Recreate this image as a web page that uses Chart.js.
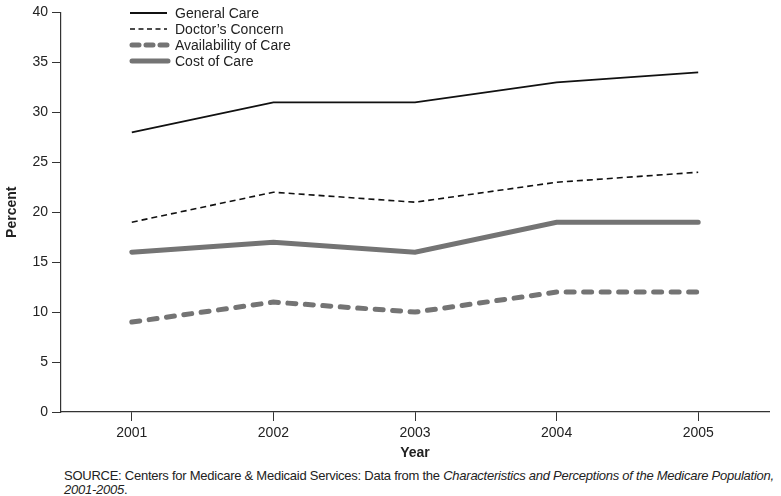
<!DOCTYPE html>
<html>
<head>
<meta charset="utf-8">
<script src="https://cdn.jsdelivr.net/npm/chart.js@4/dist/chart.umd.min.js"></script>
<style>
  body { margin: 0; background: #fff; }
  #wrap { position: relative; width: 781px; height: 462px; }
  #fuente {
    position: absolute; left: 64px; top: 469px; width: 717px;
    font-family: "Liberation Sans", Arial, sans-serif; font-size: 13px;
    letter-spacing: -0.25px; white-space: nowrap;
    line-height: 13.5px; color: #222;
  }
</style>
</head>
<body>
<div id="wrap"><canvas id="grafico"></canvas></div>
<div id="fuente">SOURCE: Centers for Medicare &amp; Medicaid Services: Data from the <i>Characteristics and Perceptions of the Medicare Population,</i><br><i>2001-2005</i>.</div>
<script>
'use strict';
////////////////////////////////////////////////////
// datos
var years = ['2001', '2002', '2003', '2004', '2005'];
var generalCare = [28, 31, 31, 33, 34];
var doctorsConcern = [19, 22, 21, 23, 24];
var availabilityCare = [9, 11, 10, 12, 12];
var costCare = [16, 17, 16, 19, 19];
var yTicks = [0, 5, 10, 15, 20, 25, 30, 35, 40];
////////////////////////////////////////////////////
const fuente = '"Liberation Sans", Arial, sans-serif';
const gris = '#747474';

// leyenda dibujada dentro del area del grafico, arriba a la izquierda
const leyenda = {
    id: 'leyenda',
    afterDraw(chart) {
        const ctx = chart.ctx;
        const filas = [13, 29, 45, 61];
        ctx.save();
        chart.data.datasets.forEach((ds, i) => {
            const y = filas[i];
            ctx.beginPath();
            ctx.strokeStyle = ds.borderColor;
            ctx.lineWidth = ds.borderWidth;
            ctx.lineCap = ds.borderCapStyle || 'butt';
            ctx.setLineDash(ds.legendDash || []);
            ctx.moveTo(i >= 2 ? 132 : 130, y);
            ctx.lineTo(i >= 2 ? 168 : 167, y);
            ctx.stroke();
            ctx.setLineDash([]);
            ctx.fillStyle = '#222';
            ctx.font = '14px ' + fuente;
            ctx.textBaseline = 'middle';
            ctx.fillText(ds.label, 175, y + 1);
        });
        ctx.restore();
    }
};

const ctx = document.getElementById('grafico').getContext('2d');
new Chart(ctx, {
    type: 'line',
    data: {
        labels: years,
        datasets: [
            { label: 'General Care', data: generalCare, borderColor: '#111', borderWidth: 1.8, legendDash: [] },
            { label: 'Doctor\u2019s Concern', data: doctorsConcern, borderColor: '#111', borderWidth: 1.6, borderDash: [6, 4], legendDash: [5, 3.5] },
            { label: 'Availability of Care', data: availabilityCare, borderColor: gris, borderWidth: 5, borderDash: [8, 9.5], borderCapStyle: 'round', legendDash: [7, 7] },
            { label: 'Cost of Care', data: costCare, borderColor: gris, borderWidth: 5, borderCapStyle: 'round' }
        ]
    },
    options: {
        responsive: true,
        maintainAspectRatio: false,
        animation: false,
        elements: { point: { radius: 0 }, line: { tension: 0 } },
        layout: { padding: { top: 12, right: 12, left: 0, bottom: 0 } },
        plugins: { legend: { display: false }, tooltip: { enabled: false } },
        scales: {
            x: {
                offset: true,
                border: { color: '#333', width: 1.2 },
                grid: { offset: false, drawOnChartArea: false, drawTicks: true, tickLength: 9, color: '#333' },
                ticks: { color: '#222', font: { family: fuente, size: 14 }, padding: 4, maxRotation: 0 },
                title: { display: true, text: 'Year', color: '#222', font: { family: fuente, size: 14, weight: 'bold' }, padding: { top: 2, bottom: 0 } },
                afterFit(scale) { scale.height = 50; }
            },
            y: {
                min: 0,
                max: 40,
                afterBuildTicks(scale) { scale.ticks = yTicks.map(v => ({ value: v })); },
                border: { color: '#333', width: 1.2 },
                grid: { drawOnChartArea: false, drawTicks: true, tickLength: 9, color: '#333' },
                ticks: { color: '#222', font: { family: fuente, size: 14 }, padding: 4 },
                title: { display: true, text: 'Percent', color: '#222', font: { family: fuente, size: 14, weight: 'bold' }, padding: { top: 4, bottom: 6 } },
                afterFit(scale) { scale.width = 61; }
            }
        }
    },
    plugins: [leyenda]
});
</script>
</body>
</html>
